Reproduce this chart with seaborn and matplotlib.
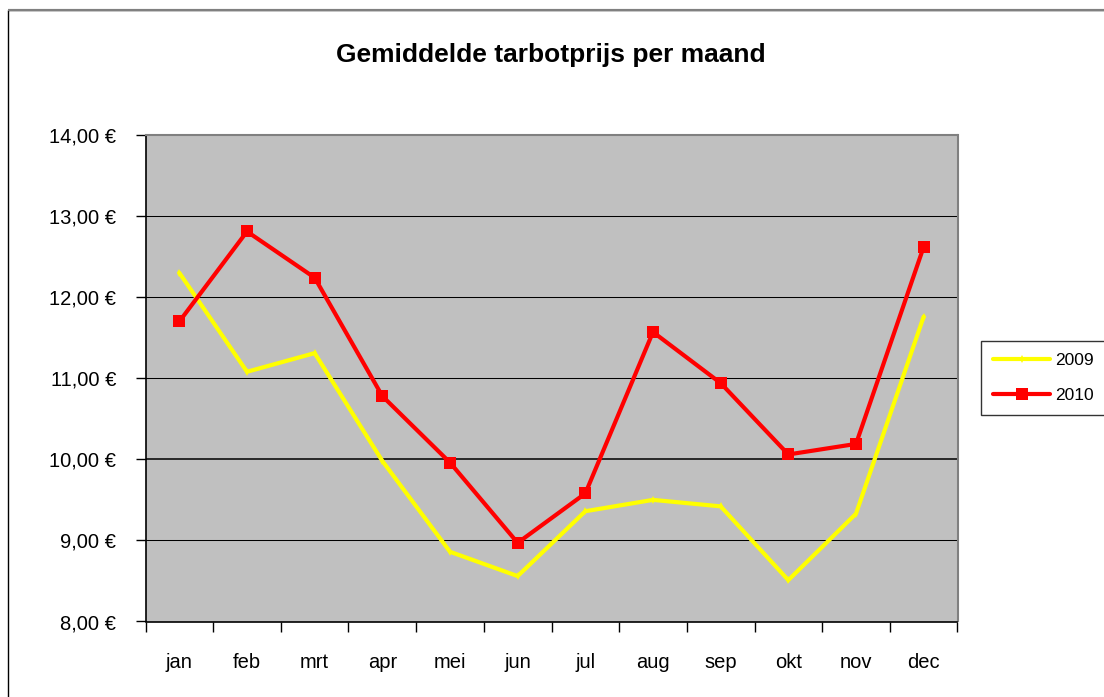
import numpy as np
import pandas as pd
import seaborn as sns
import matplotlib
import matplotlib.pyplot as plt
from matplotlib.patches import Rectangle

matplotlib.use('Agg')

months = ["jan", "feb", "mrt", "apr", "mei", "jun",
          "jul", "aug", "sep", "okt", "nov", "dec"]
prices_2009 = [12.30, 11.08, 11.31, 9.98, 8.86, 8.56,
               9.36, 9.50, 9.42, 8.51, 9.33, 11.76]
prices_2010 = [11.70, 12.81, 12.24, 10.78, 9.96, 8.97,
               9.58, 11.57, 10.94, 10.06, 10.19, 12.62]
y_ticks = [8, 9, 10, 11, 12, 13, 14]

sns.set_style("white")
plt.rcParams["font.family"] = ["Liberation Sans", "DejaVu Sans"]
plt.rcParams["text.color"] = "black"

df = pd.DataFrame({
    "pos": list(range(len(months))) * 2,
    "prijs": prices_2009 + prices_2010,
    "jaar": ["2009"] * len(months) + ["2010"] * len(months),
})

fig = plt.figure(figsize=(11.04, 6.97), dpi=100)
# chart area border (Excel style)
fig.patches.append(Rectangle((8 / 1104, -0.1), 1.2, 1 - 10 / 697 + 0.1,
                             transform=fig.transFigure, facecolor='white',
                             edgecolor='#000000', linewidth=1.0, zorder=-10))
fig.patches.append(Rectangle((8 / 1104, 1 - 10 / 697), 1.2, 0.0,
                             transform=fig.transFigure, fill=False,
                             edgecolor='#808080', linewidth=1.5, zorder=-9))

ax = fig.add_axes([145.5 / 1104, 1 - 621.5 / 697, 812 / 1104, 486.5 / 697])
ax.set_facecolor('#c0c0c0')

for v in y_ticks[1:-1]:
    ax.axhline(v, color='black', linewidth=1.1 if v == 10 else 0.75, zorder=1)

sns.lineplot(data=df, x="pos", y="prijs", hue="jaar", style="jaar",
             palette={"2009": "#ffff00", "2010": "#ff0000"},
             markers={"2009": "d", "2010": "s"},
             dashes=False, linewidth=3.0, markersize=0, ax=ax, legend=False,
             zorder=3)
ax.lines[-2].set_markersize(4)
ax.lines[-1].set_markersize(8.5)
for ln in ax.lines[-2:]:
    ln.set_markeredgewidth(0)
    ln.set_solid_joinstyle('miter')

ax.set_xlim(-0.5, len(months) - 0.5)
ax.set_ylim(8, 14)
ax.set_xticks(range(len(months)))
ax.set_xticklabels(months, fontsize=14.5)
ax.set_xticks(np.arange(-0.5, len(months), 1), minor=True)
ax.tick_params(axis='x', which='major', length=0, pad=23, labelcolor='black')
ax.tick_params(axis='x', which='minor', length=7, width=1, color='black',
               direction='out', bottom=True)
ax.set_yticks(y_ticks)
ax.set_yticklabels(["%d,00 €" % v for v in y_ticks], fontsize=14.5)
ax.tick_params(axis='y', length=7, width=1, color='black', direction='out',
               left=True, pad=14, labelcolor='black')
ax.set_xlabel("")
ax.set_ylabel("")

for side in ["top", "right"]:
    ax.spines[side].set_color('#808080')
    ax.spines[side].set_linewidth(1.5)
for side in ["left", "bottom"]:
    ax.spines[side].set_color('black')
    ax.spines[side].set_linewidth(1.2)

fig.text(551 / 1104, 1 - 55 / 697, "Gemiddelde tarbotprijs per maand",
         ha='center', va='center', fontsize=19, fontweight='bold',
         color='black')

handles = [ax.lines[-2], ax.lines[-1]]
leg = fig.legend(handles, ["2009", "2010"], loc='center left',
                 bbox_to_anchor=(981 / 1104, 1 - 378 / 697),
                 fontsize=12.5, frameon=True, fancybox=False,
                 handlelength=3.3, handletextpad=0.25, labelspacing=1.1,
                 borderpad=0.7, borderaxespad=0)
leg.get_frame().set_edgecolor('black')
leg.get_frame().set_linewidth(1.0)

fig.savefig("out.png", dpi=100)
